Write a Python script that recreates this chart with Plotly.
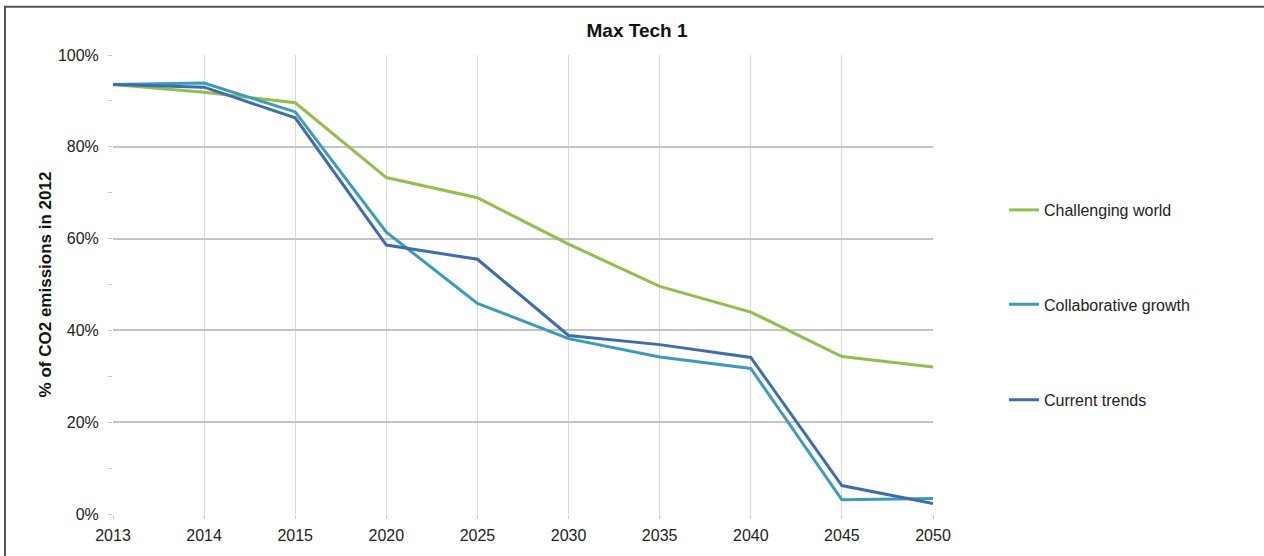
import plotly.graph_objects as go

years = ["2013", "2014", "2015", "2020", "2025", "2030", "2035", "2040", "2045", "2050"]

challenging_world = [0.936, 0.919, 0.896, 0.733, 0.689, 0.588, 0.496, 0.440, 0.343, 0.320]
collaborative_growth = [0.936, 0.939, 0.876, 0.614, 0.459, 0.382, 0.342, 0.317, 0.031, 0.034]
current_trends = [0.936, 0.930, 0.863, 0.586, 0.555, 0.389, 0.369, 0.341, 0.062, 0.023]

series = [
    ("Challenging world", challenging_world, "#93BE4A", "legend"),
    ("Collaborative growth", collaborative_growth, "#3A9CBB", "legend2"),
    ("Current trends", current_trends, "#3E6DAE", "legend3"),
]

font = "Liberation Sans, Arial, sans-serif"

fig = go.Figure()
for name, vals, color, lg in series:
    fig.add_trace(go.Scatter(x=years, y=vals, name=name, mode="lines",
                             line=dict(color=color, width=3), legend=lg))

# plot area in pixels: x 113..933, y 55..517
L, R, T, B = 113, 933, 55, 517
W, H = R - L, B - T

def px_x(p):
    return (p - L) / W

def px_y(p):
    return (B - p) / H

legend_style = dict(xanchor="left", yanchor="middle", x=px_x(1004),
                    font=dict(family=font, size=16, color="#222"),
                    bgcolor="rgba(0,0,0,0)")
fig.update_layout(
    showlegend=True,
    legend=dict(y=px_y(211), **legend_style),
    legend2=dict(y=px_y(306), **legend_style),
    legend3=dict(y=px_y(402), **legend_style),
)

fig.update_xaxes(
    type="category", range=[0, 9],
    showgrid=True, gridcolor="#D9D9D9", gridwidth=1,
    ticks="outside", ticklen=4, tickcolor="#C8C8C8",
    tickfont=dict(family=font, size=16, color="#222"),
    ticklabelstandoff=3,
    showline=False, zeroline=False,
)
fig.update_yaxes(
    range=[0, 1], dtick=0.2, tickformat=".0%",
    showgrid=True, gridcolor="#C4C4C4", gridwidth=1.5,
    ticks="outside", ticklen=4, tickcolor="#C8C8C8",
    minor=dict(dtick=0.1, ticks="outside", ticklen=4, tickcolor="#C8C8C8", showgrid=False),
    tickfont=dict(family=font, size=16, color="#222"),
    ticklabelstandoff=6,
    showline=False, zeroline=False,
    title=dict(text="<b>% of CO2 emissions in 2012</b>",
               font=dict(family=font, size=17, color="#111"), standoff=1),
)

fig.update_layout(
    width=1264, height=556,
    margin=dict(l=L, r=1264 - R, t=T, b=556 - B),
    paper_bgcolor="white", plot_bgcolor="white",
    title=dict(text="<b>Max Tech 1</b>", x=637 / 1264, xanchor="center",
               y=1 - 30 / 556, yanchor="middle",
               font=dict(family=font, size=19, color="#111")),
    shapes=[
        dict(type="line", xref="paper", yref="paper", x0=px_x(5), x1=px_x(5),
             y0=px_y(6), y1=px_y(560), line=dict(color="#555", width=2)),
        dict(type="line", xref="paper", yref="paper", x0=px_x(4), x1=px_x(1270),
             y0=px_y(6.5), y1=px_y(6.5), line=dict(color="#555", width=2)),
    ],
)

# remove the default page margin so the figure sits at the window's corner
fig.write_html("out.html", config={"displayModeBar": False},
               post_script="document.body.style.margin='0';")
